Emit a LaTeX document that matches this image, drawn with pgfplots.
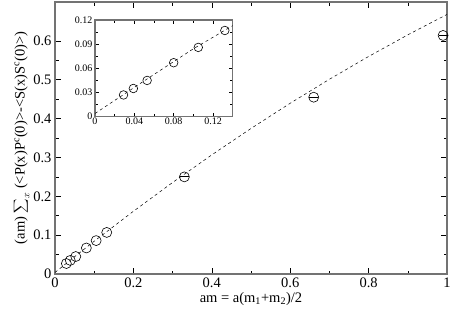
\documentclass[border=0pt]{standalone}
\usepackage{pgfplots}
\pgfplotsset{compat=1.18}
\usepackage{fontspec}
\setmainfont{Liberation Serif}

\begin{document}
\begin{tikzpicture}
\pgfplotsset{
  every axis/.append style={
    /pgf/number format/assume math mode=true,
    axis line style={draw=black!55, line width=1.1pt},
    tick style={black, line width=0.5pt},
    tick align=inside,
  },
}
% main axis
\begin{axis}[
  name=main,
  scale only axis,
  width=392pt, height=272pt,
  xmin=0, xmax=1, ymin=0, ymax=0.7,
  xtick={0,0.2,0.4,0.6,0.8,1},
  xticklabels={0,0.2,0.4,0.6,0.8,1},
  ytick={0,0.1,0.2,0.3,0.4,0.5,0.6},
  yticklabels={0,0.1,0.2,0.3,0.4,0.5,0.6},
  minor tick num=1,
  major tick length=6pt, minor tick length=3.5pt,
  ticklabel style={font=\fontsize{14.5}{16}\selectfont},
  xlabel={am = a(m\textsubscript{1}+m\textsubscript{2})/2},
  ylabel={(am) $\displaystyle\sum\nolimits_x$ (<P(x)P\textsuperscript{c}(0)>-<S(x)S\textsuperscript{c}(0)>)},
  label style={font=\fontsize{14.5}{16}\selectfont},
  xlabel style={yshift=2pt},
  ylabel style={yshift=-3pt},
]
  % fitted curve
  \addplot[black, dashed, line width=0.5pt] coordinates {
    (0,0.004) (0.05,0.0445) (0.1,0.0843) (0.2,0.1614) (0.3,0.2355)
    (0.4,0.3066) (0.5,0.3745) (0.6,0.4394) (0.7,0.5011) (0.8,0.5598)
    (0.9,0.6155) (1,0.668)};
  \addplot[only marks, mark=o, mark size=5pt, mark options={black, line width=0.6pt}] coordinates {
    (0.029,0.027) (0.039,0.035) (0.053,0.045) (0.080,0.067) (0.105,0.086)
    (0.132,0.107) (0.33,0.250) (0.66,0.455) (0.99,0.614)};
  \addplot[only marks, mark=-, mark size=4.5pt, mark options={black, line width=1pt}] coordinates {
    (0.33,0.250) (0.66,0.455) (0.99,0.614)};
\end{axis}
% inset
\begin{axis}[
  at={(40pt,157.3pt)}, anchor=south west,
  scale only axis,
  width=137.7pt, height=96.7pt,
  xmin=0, xmax=0.14, ymin=0, ymax=0.12,
  xtick={0,0.04,0.08,0.12},
  xticklabels={0,0.04,0.08,0.12},
  ytick={0,0.03,0.06,0.09,0.12},
  yticklabels={0,0.03,0.06,0.09,0.12},
  minor tick num=1,
  major tick length=4pt, minor tick length=2.5pt,
  ticklabel style={font=\fontsize{10}{11}\selectfont},
  xticklabel style={yshift=2pt},
  yticklabel style={xshift=1pt},
]
  \addplot[black, dashed, line width=0.5pt] coordinates {
    (0,0.004) (0.05,0.0445) (0.1,0.0843) (0.14,0.1130)};
  \addplot[only marks, mark=o, mark size=4.3pt, mark options={black, line width=0.6pt}] coordinates {
    (0.029,0.027) (0.039,0.035) (0.053,0.045) (0.080,0.067) (0.105,0.086) (0.132,0.107)};
\end{axis}
\pgfresetboundingbox
\path (-55pt,-40pt) rectangle (397pt,274pt);
\end{tikzpicture}
\end{document}
